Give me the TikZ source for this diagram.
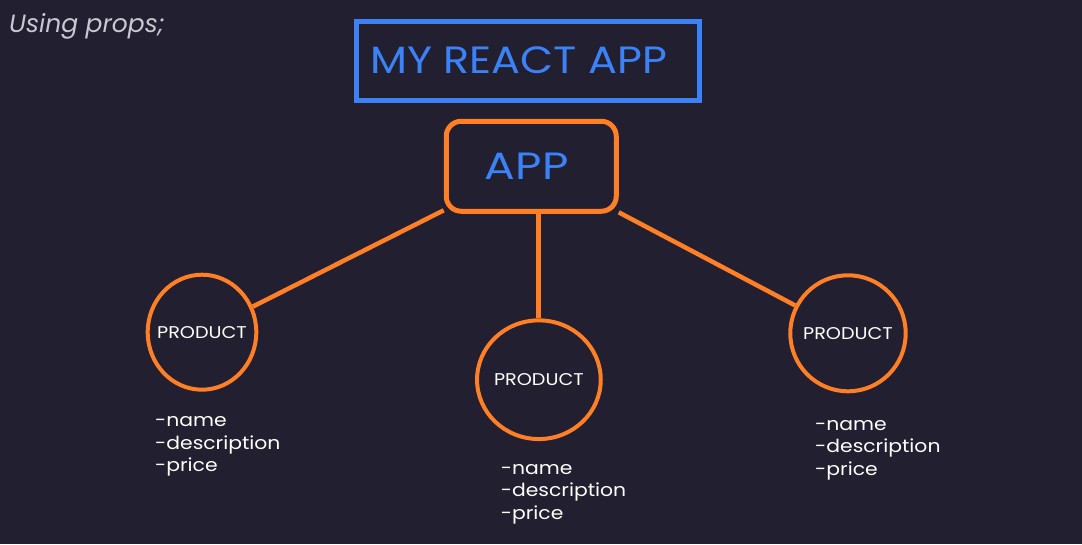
\documentclass[tikz,border=0pt]{standalone}
\usepackage{fontspec}
\setmainfont{Poppins}
\newfontfamily\wideface{Poppins}[FakeStretch=1.13]
\newfontfamily\appface{Poppins}[FakeStretch=1.2]
\usetikzlibrary{shapes.geometric}
\definecolor{boardbg}{RGB}{33,31,48}
\definecolor{reactblue}{RGB}{59,130,246}
\definecolor{propsorange}{RGB}{255,127,39}
\definecolor{notegray}{RGB}{200,200,210}
\tikzset{
	compbox/.style={draw=propsorange, line width=5pt, rounded corners=15pt, minimum width=170pt, minimum height=90pt, inner sep=0pt},
	propcircle/.style={ellipse, draw=propsorange, line width=4pt, inner sep=0pt, text=white, font=\wideface\fontsize{17}{20}\selectfont},
	proplist/.style={anchor=base west, inner sep=0pt, align=left, text=white, font=\wideface\fontsize{18}{22.5}\selectfont},
	wire/.style={draw=propsorange, line width=4.5pt}
}
\newcommand{\prodname}{\makebox[0pt]{PRODUCT}}

\begin{document}
\begin{tikzpicture}[x=1pt, y=-1pt]
		%%%%% START %%%%%
		
		\fill[boardbg] (0, 0) rectangle (1082, 544);
		\useasboundingbox (0, 0) rectangle (1082, 544);
		
		\node[anchor=base west, inner sep=0pt, text=notegray, font=\fontsize{25}{30}\selectfont\itshape] (note) at (9, 32) {Using props;};
		
		\node[draw=reactblue, line width=5pt, minimum width=342.5pt, minimum height=78.5pt, inner sep=0pt] (title) at (527.75, 60.75) {};
		\node[anchor=base west, inner sep=0pt, text=reactblue, font=\wideface\fontsize{38}{46}\selectfont] (titletext) at (370, 73) {MY REACT APP};
		
		\node[compbox, text=reactblue, font=\appface\fontsize{38}{46}\selectfont] (app) at (531.25, 166.25) {APP\kern9pt};
		
		\node[propcircle, minimum width=108.6pt, minimum height=115pt] (prodA) at (202, 332.2) {\prodname};
		\node[propcircle, minimum width=123.7pt, minimum height=118.7pt] (prodB) at (538.9, 379.7) {\prodname};
		\node[propcircle, minimum width=115.4pt, minimum height=116pt] (prodC) at (848, 333.3) {\prodname};
		
		\draw[wire] (app) -- (prodA);
		\draw[wire, line width=5pt] (prodB.north |- app.south) -- (prodB);
		\draw[wire] (app) -- (prodC);
		
		% baselines of the last lines
		\node[proplist] (propsA) at (155, 471.7) {-name\\-description\\-price};
		\node[proplist] (propsB) at (500.7, 519) {-name\\-description\\-price};
		\node[proplist] (propsC) at (815, 475) {-name\\-description\\-price};
		
		%%%%% END %%%%%
	\end{tikzpicture}
\end{document}
